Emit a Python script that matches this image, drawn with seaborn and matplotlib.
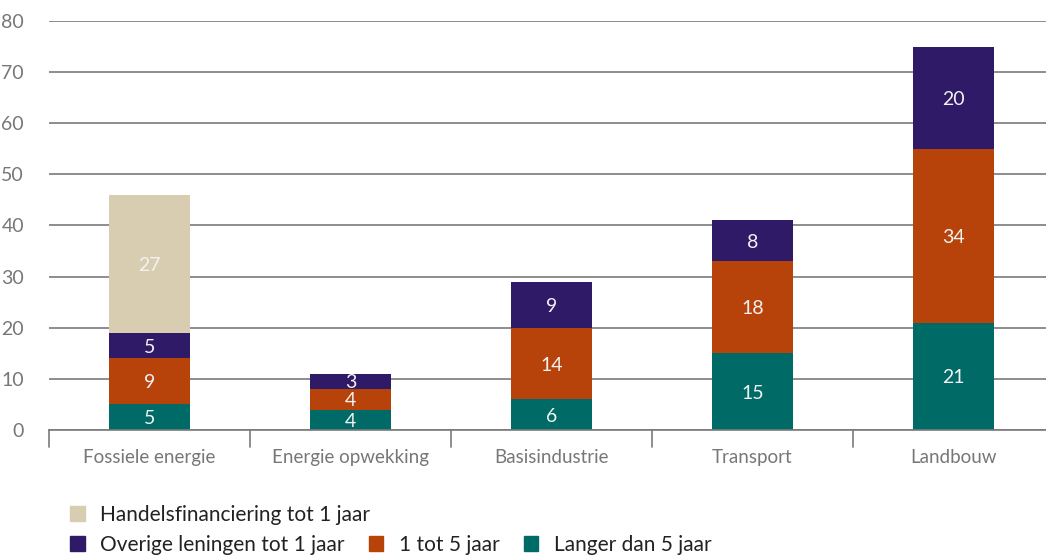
import matplotlib
matplotlib.use("Agg")
import matplotlib.pyplot as plt
import seaborn as sns
import numpy as np
import pandas as pd
from matplotlib.patches import Patch

categories = ["Fossiele energie", "Energie opwekking", "Basisindustrie", "Transport", "Landbouw"]
langer_dan_5 = [5, 4, 6, 15, 21]
een_tot_5 = [9, 4, 14, 18, 34]
overige_1 = [5, 3, 9, 8, 20]
handels_1 = [27, 0, 0, 0, 0]

series_names = ["Langer dan 5 jaar", "1 tot 5 jaar", "Overige leningen tot 1 jaar",
                "Handelsfinanciering tot 1 jaar"]
series_vals = [langer_dan_5, een_tot_5, overige_1, handels_1]
colors = ["#006b66", "#b7430a", "#2e1a66", "#d8cdb0"]

sns.set_theme(style="white")
plt.rcParams["font.family"] = ["Lato", "DejaVu Sans"]

fig = plt.figure(figsize=(10.46, 5.55), dpi=100)
ax = fig.add_axes([49 / 1046, 1 - 430 / 555, 1 - 49 / 1046, (430 - 21) / 555])

vals = np.array(series_vals, dtype=float)
cum = np.cumsum(vals, axis=0)

# draw cumulative bars from top series to bottom so each overlays the previous
for i in range(len(series_names) - 1, -1, -1):
    df = pd.DataFrame({"cat": categories, "val": cum[i]})
    sns.barplot(data=df, x="cat", y="val", color=colors[i], saturation=1,
                width=0.4, ax=ax, order=categories, linewidth=0, edgecolor="none")

# labels
for i in range(len(series_names)):
    for j, c in enumerate(categories):
        v = vals[i, j]
        if v > 0:
            mid = cum[i, j] - v / 2
            ax.text(j, mid - 0.3, f"{int(v)}", ha="center", va="center",
                    color="#f2f2f2", fontsize=14)

ax.set_ylim(0, 80)
ax.set_xlim(-0.5, 4.46)
ax.set_yticks(range(0, 81, 10))
ax.yaxis.grid(True, color="#7a7a7a", linewidth=1.2)
ax.set_axisbelow(True)
for s in ["top", "right", "left"]:
    ax.spines[s].set_visible(False)
ax.spines["bottom"].set_color("#7a7a7a")
ax.spines["bottom"].set_linewidth(1.2)
ax.set_xlabel("")
ax.set_ylabel("")
ax.tick_params(axis="y", length=0, pad=18, labelcolor="#777777", labelsize=14)
ax.tick_params(axis="x", length=0, pad=14, labelcolor="#777777", labelsize=13.5)
for lbl in ax.get_yticklabels():
    lbl.set_horizontalalignment("right")

# separators below axis
for k in range(5):
    ax.plot([k - 0.5, k - 0.5], [0, -3.3], color="#7a7a7a", linewidth=1.2,
            clip_on=False)

leg_kw = dict(frameon=False, fontsize=15, handlelength=0.7, handleheight=0.7,
              handletextpad=0.75, borderpad=0, borderaxespad=0, labelcolor="#222222")
leg1 = fig.legend(handles=[Patch(color=colors[3])], labels=[series_names[3]],
                  loc="center left", bbox_to_anchor=(70 / 1046, 1 - 515 / 555), **leg_kw)
leg2 = fig.legend(handles=[Patch(color=colors[2]), Patch(color=colors[1]), Patch(color=colors[0])],
                  labels=[series_names[2], series_names[1], series_names[0]],
                  ncol=3, loc="center left", bbox_to_anchor=(70 / 1046, 1 - 545 / 555),
                  columnspacing=1.15, **leg_kw)

fig.savefig("out.png", dpi=100)
